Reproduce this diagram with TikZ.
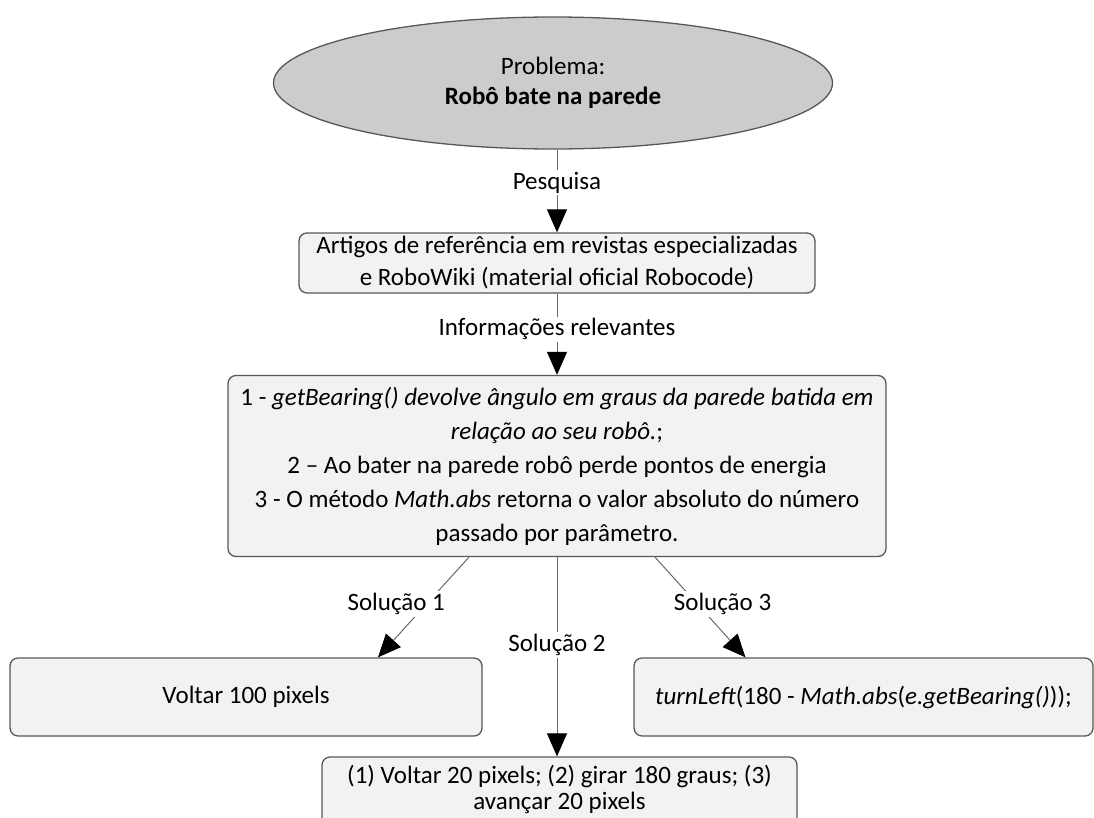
\documentclass[tikz,border=0pt]{standalone}
\usepackage{fontspec}
\setmainfont{Carlito}
\usetikzlibrary{arrows.meta,shapes.geometric}
\definecolor{boxfill}{RGB}{242,242,242}
\definecolor{boxline}{RGB}{88,88,88}
\definecolor{ellfill}{RGB}{204,204,204}
\definecolor{linkgray}{RGB}{105,105,105}
\begin{document}
\begin{tikzpicture}[x=1pt,y=-1pt,
  box/.style={draw=boxline, line width=1.3pt, rounded corners=8pt, fill=boxfill,
    align=center, inner sep=0pt, font=\fontsize{25}{32}\selectfont},
  link/.style={draw=linkgray, line width=1pt,
    -{Triangle[length=23pt,width=20pt,color=black]}},
  lbl/.style={fill=white, inner sep=2pt, font=\fontsize{25}{28}\selectfont}]
\useasboundingbox (0,0) rectangle (1094,817);

% problem statement
\node[ellipse, draw=boxline, line width=1.3pt, fill=ellfill, inner sep=0pt,
  minimum width=559pt, minimum height=132pt, align=center,
  font=\fontsize{25}{30}\selectfont] (prob) at (553,83)
  {Problema:\\\textbf{Robô bate na parede}};

% research sources
\node[box, minimum width=516pt, minimum height=60pt] (art) at (557,263)
  {Artigos de referência em revistas especializadas\\e RoboWiki (material oficial Robocode)};

% relevant information
\node[box, minimum width=658pt, minimum height=181pt, font=\fontsize{25}{34}\selectfont] (info) at (557,466)
  {1 - \textit{getBearing() devolve ângulo em graus da parede batida em}\\
   \textit{relação ao seu robô.};\\
   2 -- Ao bater na parede robô perde pontos de energia\\
   3 - O método \textit{Math.abs} retorna o valor absoluto do número\\
   passado por parâmetro.};

% solutions
\node[box, minimum width=472pt, minimum height=78pt] (v1) at (246,697) {Voltar 100 pixels};
\node[box, minimum width=459pt, minimum height=78pt] (v3) at (863.5,697)
  {\textit{turnLeft}(180 - \textit{Math.abs}(\textit{e.getBearing()}));};
% this box runs past the lower edge of the page
\node[box, minimum width=475pt, minimum height=76pt, text depth=16pt,
  font=\fontsize{25}{26}\selectfont] (v2) at (559.5,795)
  {(1) Voltar 20 pixels; (2) girar 180 graus; (3)\\avançar 20 pixels};

% connectors
\draw[link] (art.north |- prob.south) -- node[lbl, pos=0.4] {Pesquisa} (art.north);
\draw[link] (art.south) -- node[lbl, pos=0.44] {Informações relevantes} (info.north);
\draw[link] ([xshift=-88pt]info.south) -- node[lbl, pos=0.47, xshift=-30pt] {Solução 1} ([xshift=132pt]v1.north);
\draw[link] (info.south) -- node[lbl, pos=0.44] {Solução 2} (info.south |- v2.north);
\draw[link] ([xshift=98pt]info.south) -- node[lbl, pos=0.47, xshift=25pt] {Solução 3} ([xshift=-118pt]v3.north);
\end{tikzpicture}
\end{document}
